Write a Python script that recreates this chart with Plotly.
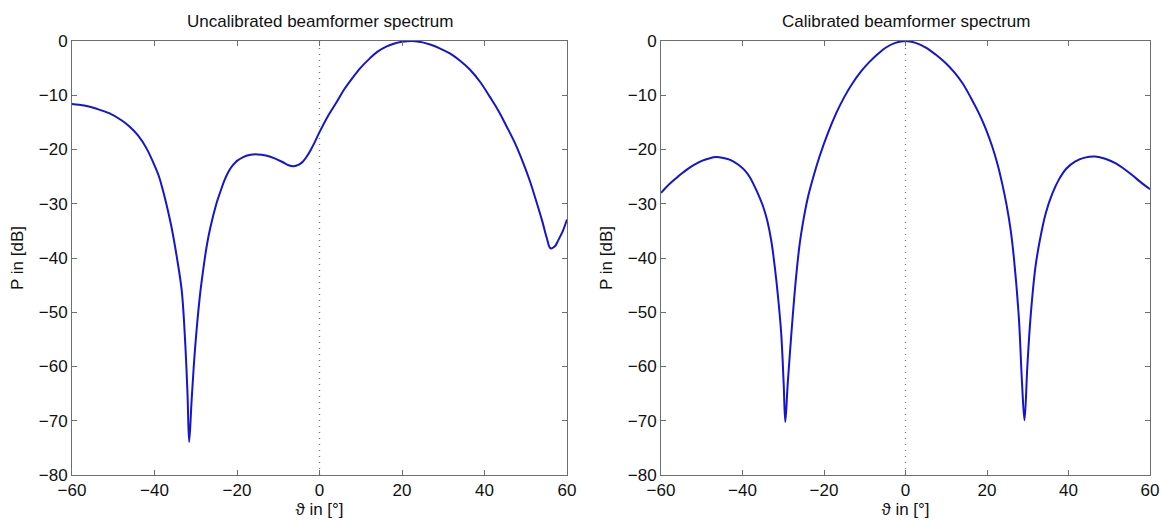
import plotly.graph_objects as go

# ---------------- data ----------------
theta_unc = [-60, -57, -54, -51, -48, -46, -44, -42, -40.3, -39,
             -37.9, -36.8, -35.8, -34.6, -33.4, -32.6, -32.0, -31.6, -31.0, -30.2,
             -29.1, -28.2, -27.3, -26.5, -25.0, -24.0, -23.0, -22.0, -21.0, -20.0,
             -18.5, -17.0, -15.0, -13.0, -11.0, -9.0, -7.5, -6.3, -5.0, -4.0,
             -3.0, -2.0, -1.0, 0.0, 2.0, 4.2, 6.0, 8.2, 10.0, 12.2,
             14.0, 16.3, 18.0, 20.0, 22.5, 25.0, 27.0, 29.0, 31.6, 34.0,
             36.5, 39.0, 41.3, 43.4, 45.4, 47.5, 49.4, 51.0, 52.7, 54.0,
             55.1, 56.0, 57.0, 57.9, 59.0, 60.0]
p_unc = [-11.6, -11.9, -12.5, -13.3, -14.6, -15.8, -17.4, -19.7, -22.4, -24.8,
         -27.7, -31.1, -34.6, -39.8, -46.0, -55.0, -65.0, -73.9, -66.2, -57.0,
         -47.7, -42.2, -37.6, -34.5, -30.0, -27.7, -25.6, -24.0, -22.9, -22.1,
         -21.4, -21.0, -20.9, -21.1, -21.6, -22.3, -22.9, -23.1, -22.8, -22.2,
         -21.2, -19.9, -18.4, -16.8, -13.9, -11.2, -8.9, -6.6, -4.9, -3.2,
         -2.0, -1.0, -0.5, -0.15, 0.0, -0.25, -0.7, -1.3, -2.3, -3.6,
         -5.3, -7.6, -10.3, -12.9, -15.8, -19.0, -22.5, -25.8, -29.9, -33.2,
         -36.3, -38.2, -37.9, -36.7, -35.0, -32.9]

theta_cal = [-60, -58, -56, -54, -52, -50, -48, -46.5, -45, -43,
             -41, -39.5, -38.2, -36.6, -34.9, -33.9, -32.9, -32.1, -31.3, -30.5,
             -29.9, -29.5, -28.9, -28.0, -27.0, -26.0, -25.0, -24.0, -23.0, -21.1,
             -19.0, -17.0, -15.0, -13.0, -11.0, -8.9, -6.8, -4.8, -2.5, 0.0,
             2.5, 5.0, 7.4, 9.9, 12.0, 14.0, 16.0, 18.0, 19.7, 21.3,
             22.5, 23.7, 24.8, 25.8, 26.6, 27.8, 28.6, 29.2, 29.9, 30.7,
             31.9, 33.0, 34.4, 36.0, 37.6, 39.5, 41.7, 44.0, 46.6, 49.0,
             51.5, 53.5, 55.6, 58.0, 60.0]
p_cal = [-28.0, -26.4, -25.1, -23.9, -22.9, -22.1, -21.6, -21.4, -21.5, -21.9,
         -22.8, -23.8, -25.1, -27.5, -30.6, -33.2, -37.0, -41.5, -47.0, -53.9,
         -63.1, -70.2, -63.1, -53.9, -44.7, -37.6, -32.8, -29.0, -26.1, -21.3,
         -16.9, -13.3, -10.3, -7.8, -5.7, -3.9, -2.4, -1.2, -0.35, 0.0,
         -0.35, -1.2, -2.5, -4.1, -5.8, -7.8, -10.4, -13.3, -16.2, -19.5,
         -22.5, -26.2, -30.2, -34.8, -40.0, -50.8, -63.1, -69.9, -60.0, -50.8,
         -41.6, -36.6, -31.8, -28.2, -25.6, -23.5, -22.2, -21.5, -21.3, -21.7,
         -22.5, -23.5, -24.7, -26.2, -27.3]

titles = ["Uncalibrated beamformer spectrum", "Calibrated beamformer spectrum"]
x_label = "ϑ in [°]"
y_label = "P in [dB]"
x_ticks = [-60, -40, -20, 0, 20, 40, 60]
y_ticks = [0, -10, -20, -30, -40, -50, -60, -70, -80]
x_range = [-60, 60]
y_range = [-80, 0]
ref_theta = [0, 0]

# ---------------- figure ----------------
W, H = 1164, 525
FONT = "Liberation Sans, Arial, sans-serif"
LINE = "#1414d2"
AXC = "#6e6e6e"
TXT = "#111111"

fig = go.Figure()

for i, (xs, ys) in enumerate([(theta_unc, p_unc), (theta_cal, p_cal)]):
    sfx = "" if i == 0 else str(i + 1)
    fig.add_trace(go.Scatter(x=ref_theta, y=y_range, mode="lines",
                             line=dict(color="#7a7a7a", width=1.3, dash="1px,5px"),
                             xaxis="x" + sfx, yaxis="y" + sfx, showlegend=False,
                             hoverinfo="skip"))
    fig.add_trace(go.Scatter(x=xs, y=ys, mode="lines",
                             line=dict(color=LINE, width=2, shape="spline", smoothing=1.0),
                             xaxis="x" + sfx, yaxis="y" + sfx, showlegend=False))

domains_x = [[72 / W, 567 / W], [661 / W, 1150 / W]]
dom_y = [1 - 475 / H, 1 - 41 / H]

axis_common = dict(showgrid=False, zeroline=False, showline=True, linecolor=AXC,
                   linewidth=1, mirror="ticks", ticks="inside", ticklen=5,
                   tickcolor=AXC, automargin=False,
                   tickfont=dict(family=FONT, size=17, color=TXT))

for i in range(2):
    sfx = "" if i == 0 else str(i + 1)
    fig.update_layout(**{
        "xaxis" + sfx: dict(axis_common, domain=domains_x[i], range=x_range,
                            tickvals=x_ticks, anchor="y" + sfx,
                            title=dict(text=x_label, font=dict(family=FONT, size=17, color=TXT),
                                       standoff=2)),
        "yaxis" + sfx: dict(axis_common, domain=dom_y, range=y_range,
                            tickvals=y_ticks, anchor="x" + sfx,
                            title=dict(text=y_label, font=dict(family=FONT, size=17, color=TXT),
                                       standoff=10)),
    })
    cx = (domains_x[i][0] + domains_x[i][1]) / 2
    fig.add_annotation(x=cx, y=1 - 22 / H, xref="paper", yref="paper",
                       text=titles[i], showarrow=False, xanchor="center", yanchor="middle",
                       font=dict(family=FONT, size=17, color=TXT))

fig.update_layout(width=W, height=H, margin=dict(l=0, r=0, t=0, b=0),
                  paper_bgcolor="white", plot_bgcolor="white")

fig.write_html("out.html")
